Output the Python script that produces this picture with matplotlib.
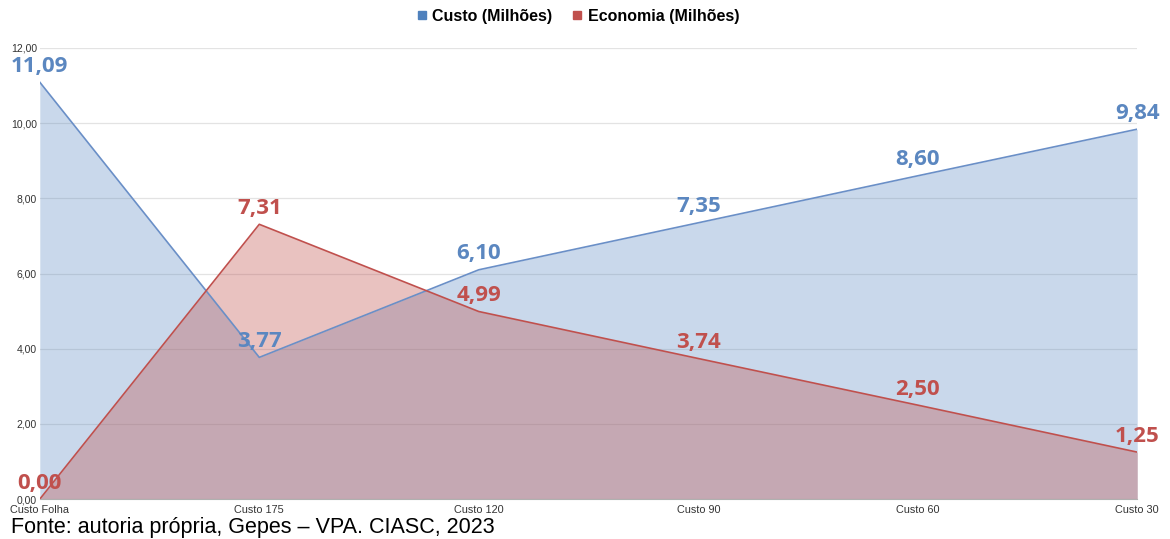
import numpy as np
import matplotlib.pyplot as plt
from matplotlib.lines import Line2D

categorias = ["Custo Folha", "Custo 175", "Custo 120", "Custo 90", "Custo 60", "Custo 30"]
custo = [11.09, 3.77, 6.10, 7.35, 8.60, 9.84]
economia = [0.00, 7.31, 4.99, 3.74, 2.50, 1.25]

azul = "#4f81bd"
vermelho = "#c0504d"

fig = plt.figure(figsize=(11.7, 5.39), dpi=100)
ax = fig.add_axes([0.034, 0.074, 0.938, 0.837])

x = np.arange(len(categorias))
ax.fill_between(x, custo, color=azul, alpha=0.3, linewidth=0)
ax.plot(x, custo, color="#6a8fc7", linewidth=1.2)
ax.fill_between(x, economia, color=vermelho, alpha=0.35, linewidth=0)
ax.plot(x, economia, color=vermelho, linewidth=1.2)

for xi, v in zip(x, custo):
    ax.annotate(f"{v:.2f}".replace(".", ","), (xi, v), xytext=(0, 11.5), textcoords="offset points",
                ha="center", va="center", color="#5b87c0", fontsize=16,
                fontweight="bold", family="Open Sans")
for xi, v in zip(x, economia):
    ax.annotate(f"{v:.2f}".replace(".", ","), (xi, v), xytext=(0, 11.5), textcoords="offset points",
                ha="center", va="center", color="#c0504d", fontsize=16,
                fontweight="bold", family="Open Sans")

ax.set_xlim(0, len(categorias) - 1)
ax.set_ylim(0, 12)
ax.set_yticks(np.arange(0, 13, 2))
ax.set_yticklabels([f"{t:.2f}".replace(".", ",") for t in np.arange(0, 13, 2)],
                   family="Liberation Sans", fontsize=7.5, color="#333333")
ax.set_xticks(x)
ax.set_xticklabels(categorias, family="Liberation Sans", fontsize=7.8, color="#333333")
ax.tick_params(axis="y", length=0, pad=2)
ax.tick_params(axis="x", length=0, pad=4)
ax.grid(axis="y", color="#e3e3e3", linewidth=0.9)
ax.set_axisbelow(True)
for s in ["top", "right", "left"]:
    ax.spines[s].set_visible(False)
ax.spines["bottom"].set_color("#b0b0b0")

handles = [Line2D([], [], marker="s", linestyle="", color=azul, markersize=5.5),
           Line2D([], [], marker="s", linestyle="", color=vermelho, markersize=5.5)]
fig.legend(handles, ["Custo (Milhões)", "Economia (Milhões)"], loc="center",
           bbox_to_anchor=(0.491, 0.97), ncol=2, frameon=False, handletextpad=-0.1,
           handlelength=1.5, columnspacing=0.8,
           prop={"family": "Liberation Sans", "weight": "bold", "size": 11.5})

fig.text(0.009, 0.022, "Fonte: autoria própria, Gepes – VPA. CIASC, 2023",
         family="Liberation Sans", fontsize=15.5, va="center")

fig.savefig("out.png", dpi=100)
